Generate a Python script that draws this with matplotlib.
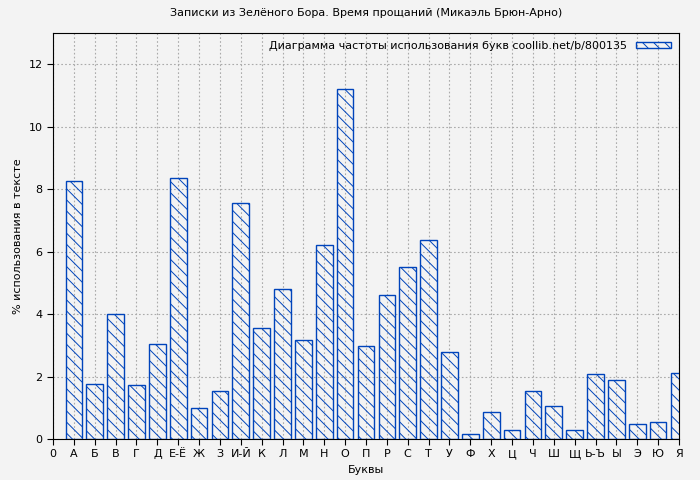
import matplotlib
matplotlib.use('Agg')
import matplotlib.pyplot as plt

letters = ['А', 'Б', 'В', 'Г', 'Д', 'Е-Ё', 'Ж', 'З', 'И-Й', 'К', 'Л', 'М', 'Н', 'О', 'П',
           'Р', 'С', 'Т', 'У', 'Ф', 'Х', 'Ц', 'Ч', 'Ш', 'Щ', 'Ь-Ъ', 'Ы', 'Э', 'Ю', 'Я']
percent = [8.27, 1.75, 4.0, 1.72, 3.05, 8.37, 1.0, 1.55, 7.57, 3.57, 4.8, 3.18, 6.22, 11.2, 2.97,
           4.6, 5.5, 6.38, 2.8, 0.15, 0.88, 0.28, 1.53, 1.05, 0.28, 2.07, 1.88, 0.47, 0.53, 2.1]

plt.rcParams['font.size'] = 8
plt.rcParams['hatch.color'] = '#0044bb'
plt.rcParams['hatch.linewidth'] = 0.7

fig = plt.figure(figsize=(7, 4.8), dpi=100, facecolor='#f3f3f3')
ax = fig.add_axes([53/700, 1-439/480, 626/700, 406/480], facecolor='#f3f3f3')

pos = list(range(1, len(letters) + 1))
ax.bar(pos, percent, width=0.8, color='none', edgecolor='#0044bb', hatch='\\\\\\',
       linewidth=1, label='Диаграмма частоты использования букв coollib.net/b/800135', zorder=3)

ax.set_xlim(0, 30)
ax.set_ylim(0, 13)
ax.set_xticks([0] + pos)
ax.set_xticklabels(['0'] + letters)
ax.set_yticks(range(0, 13, 2))
ax.grid(True, color='#aaaaaa', linestyle=(0, (1.5, 2)), linewidth=0.8, zorder=0)
for s in ax.spines.values():
    s.set_color('black')
ax.tick_params(direction='out', length=4, color='black')

ax.set_xlabel('Буквы')
ax.set_ylabel('% использования в тексте')
ax.set_title('Записки из Зелёного Бора. Время прощаний (Микаэль Брюн-Арно)', fontsize=8, pad=12)
ax.legend(loc='upper right', frameon=False, handlelength=3.2, handleheight=0.5,
          borderaxespad=0.3, markerfirst=False)

fig.savefig('out.png', dpi=100, facecolor=fig.get_facecolor())
